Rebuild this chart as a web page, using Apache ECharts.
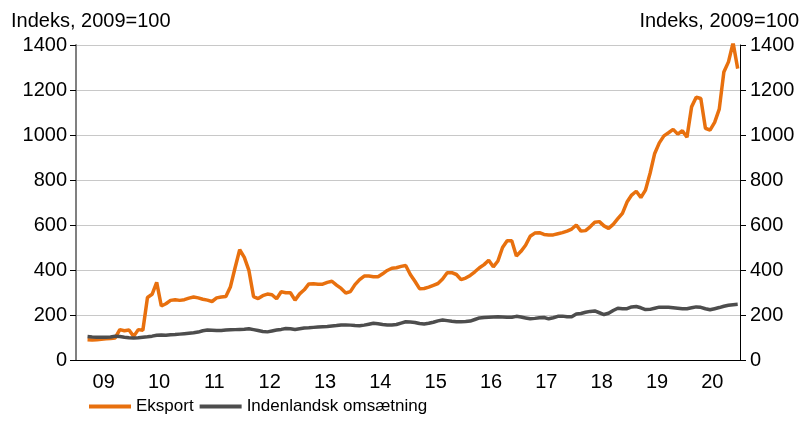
<!DOCTYPE html>
<html>
<head>
<meta charset="utf-8">
<script src="https://cdn.jsdelivr.net/npm/echarts@6/dist/echarts.min.js"></script>
<style>
  html, body { margin: 0; padding: 0; background: #fff; }
  #chart { width: 806px; height: 423px; }
</style>
</head>
<body>
<div id="chart"></div>
<script>
  // year labels on the x axis
  var years = ['09', '10', '11', '12', '13', '14', '15', '16', '17', '18', '19', '20'];

  // index, 2009=100, monthly Jan 2009 - Dec 2020 (first two months not shown)
  var eksport = [
    null, null, 90, 89, 90, 92, 94, 96, 98, 135, 130, 133,
    105, 135, 132, 278, 292, 345, 240, 250, 265, 268, 265, 268,
    275, 280, 276, 270, 266, 260, 276, 280, 282, 326, 410, 490,
    456, 398, 282, 273, 286, 293, 290, 272, 303, 299, 299, 266,
    294, 312, 338, 339, 337, 337, 345, 350, 333, 318, 298, 304,
    335, 357, 373, 373, 370, 370, 383, 398, 408, 410, 416, 420,
    380, 350, 317, 318, 324, 332, 340, 360, 388, 388, 380, 357,
    364, 376, 392, 410, 424, 443, 414, 440, 500, 530, 530, 462,
    483, 510, 550, 564, 566, 558, 556, 556, 561, 566, 573, 582,
    600, 573, 575, 592, 612, 615, 596, 585, 603, 628, 652, 702,
    733, 750, 722, 755, 830, 918, 965, 996, 1010, 1025, 1004, 1019,
    990, 1125, 1168, 1162, 1030, 1022, 1056, 1115, 1280, 1325, 1410, 1295
  ];

  var indenlandsk = [
    null, null, 104, 102, 101, 101, 101, 102, 106, 104, 101, 99,
    98, 99, 101, 103, 106, 110, 111, 110, 112, 113, 115, 117,
    119, 121, 124, 130, 133, 132, 131, 131, 133, 134, 135, 136,
    137, 139, 135, 131, 127, 125, 129, 133, 136, 140, 139, 136,
    139, 142, 143, 145, 147, 148, 149, 151, 153, 156, 156, 155,
    153, 152, 155, 159, 163, 161, 158, 156, 156, 158, 164, 170,
    169, 167, 162, 160, 163, 168, 174, 178, 175, 172, 170, 170,
    171, 173, 180, 187, 189, 190, 191, 192, 191, 190, 190, 194,
    191, 187, 183, 185, 188, 189, 183, 188, 194, 195, 192, 192,
    204, 207, 212, 216, 218, 210, 202, 208, 220, 230, 228, 228,
    236, 238, 232, 224, 225, 230, 235, 235, 234, 232, 230, 228,
    228, 232, 236, 234, 228, 223, 228, 233, 239, 243, 246, 248
  ];

  var months = [];
  years.forEach(function (y) {
    for (var m = 1; m <= 12; m++) {
      months.push('20' + y + '-' + (m < 10 ? '0' + m : m));
    }
  });

  var font = 'Liberation Sans, Arial, sans-serif';
  var plain = function (v) { return String(v); };
  var chart = echarts.init(document.getElementById('chart'));

  var option = {
    animation: false,
    textStyle: { fontFamily: font },
    title: [
      { text: 'Indeks, 2009=100', left: 6, top: 6,
        textStyle: { fontSize: 20, fontWeight: 'normal', color: '#000', fontFamily: font } },
      { text: 'Indeks, 2009=100', right: 2, top: 6,
        textStyle: { fontSize: 20, fontWeight: 'normal', color: '#000', fontFamily: font } }
    ],
    legend: {
      left: 84, bottom: 3,
      icon: 'rect', itemWidth: 42, itemHeight: 4, itemGap: 6,
      textStyle: { fontSize: 17, color: '#000', fontFamily: font },
      data: ['Eksport', 'Indenlandsk omsætning']
    },
    grid: { left: 76, right: 66, top: 45, bottom: 63 },
    xAxis: [
      {
        type: 'category', data: years, boundaryGap: true,
        axisLine: { lineStyle: { color: '#000', width: 1 } },
        axisTick: { length: 8, lineStyle: { color: '#000' } },
        axisLabel: { fontSize: 20, color: '#000', margin: 12, fontFamily: font }
      },
      {
        type: 'category', data: months, boundaryGap: true, show: false
      }
    ],
    yAxis: [
      {
        type: 'value', min: 0, max: 1400, interval: 200,
        axisLine: { show: true, lineStyle: { color: '#808080', width: 2 } },
        axisTick: { show: true, length: 6, lineStyle: { color: '#000' } },
        axisLabel: { fontSize: 20, color: '#000', margin: 9, fontFamily: font, formatter: plain },
        splitLine: { lineStyle: { color: '#c8c8c8', width: 1 } }
      },
      {
        type: 'value', min: 0, max: 1400, interval: 200, position: 'right',
        axisLine: { show: true, lineStyle: { color: '#000', width: 1 } },
        axisTick: { show: true, length: 6, lineStyle: { color: '#000' } },
        axisLabel: { fontSize: 20, color: '#000', margin: 10, fontFamily: font, formatter: plain },
        splitLine: { show: false }
      }
    ],
    series: [
      {
        name: 'Eksport', type: 'line', xAxisIndex: 1, yAxisIndex: 0,
        data: eksport, showSymbol: false, symbol: 'none',
        color: '#e8700e',
        lineStyle: { width: 3.5, color: '#e8700e' }
      },
      {
        name: 'Indenlandsk omsætning', type: 'line', xAxisIndex: 1, yAxisIndex: 0,
        data: indenlandsk, showSymbol: false, symbol: 'none',
        color: '#4d4d4d',
        lineStyle: { width: 3.5, color: '#4d4d4d' }
      }
    ]
  };

  chart.setOption(option);
</script>
</body>
</html>
